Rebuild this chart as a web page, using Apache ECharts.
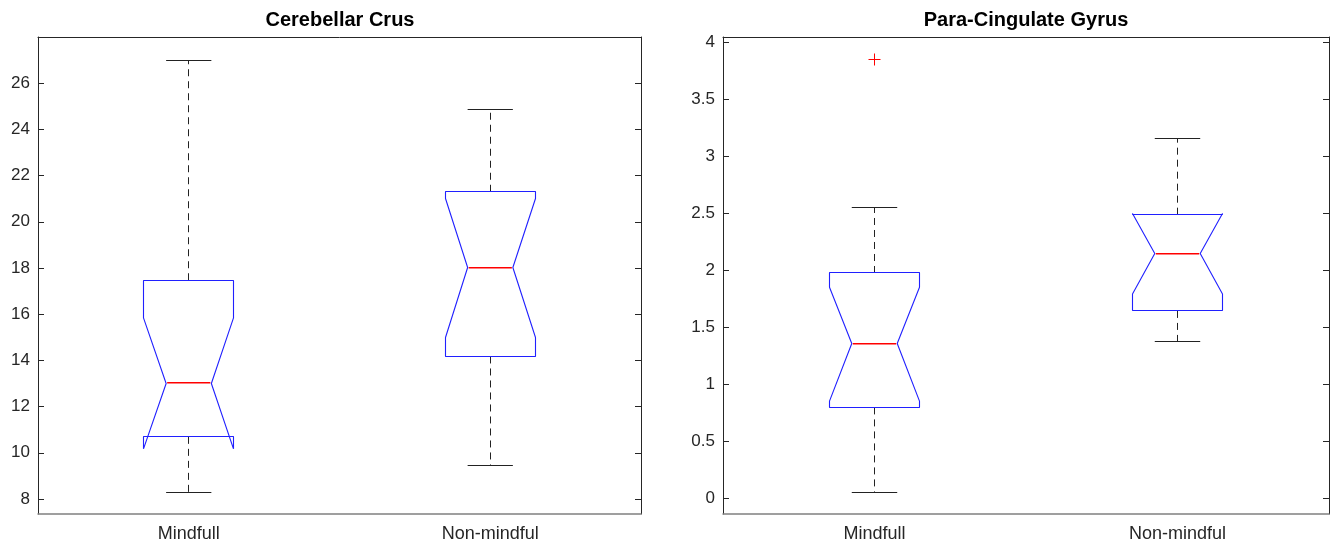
<!DOCTYPE html>
<html>
<head>
<meta charset="utf-8">
<script src="https://cdn.jsdelivr.net/npm/echarts@6/dist/echarts.min.js"></script>
<style>
html,body{margin:0;padding:0;background:#fff;}
#chart{width:1331px;height:543px;}
</style>
</head>
<body>
<div id="chart"></div>
<script>
// ---------- data ----------
const categories = ['Mindfull', 'Non-mindful'];

// Cerebellar Crus
const crusWhiskerLow  = [8.28, 9.45];
const crusQ1          = [10.69, 14.17];
const crusNotchLow    = [10.17, 14.99];
const crusMedian      = [13.0, 18.0];
const crusNotchHigh   = [15.84, 21.01];
const crusQ3          = [17.47, 21.30];
const crusWhiskerHigh = [27.0, 24.88];
const crusOutliers    = [];            // [categoryIndex, value]
const crusTicks       = [8, 10, 12, 14, 16, 18, 20, 22, 24, 26];

// Para-Cingulate Gyrus
const pcgWhiskerLow  = [0.05, 1.374];
const pcgQ1          = [0.798, 1.645];
const pcgNotchLow    = [0.853, 1.794];
const pcgMedian      = [1.357, 2.148];
const pcgNotchHigh   = [1.853, 2.50];
const pcgQ3          = [1.978, 2.49];
const pcgWhiskerHigh = [2.555, 3.158];
const pcgOutliers    = [[0, 3.85]];
const pcgTicks       = [0, 0.5, 1, 1.5, 2, 2.5, 3, 3.5, 4];

// ---------- styling ----------
const FONT = 'Liberation Sans, Arial, sans-serif';
const AX = '#262626';
const BOX_FRAC = 0.30;    // box width as fraction of category band
const NOTCH_FRAC = 0.15;  // notch (narrow) width
const CAP_FRAC = 0.15;    // whisker cap width

function crisp(v) { return Math.round(v - 0.5) + 0.5; }

function boxData(wl, q1, nl, md, nh, q3, wh) {
  return categories.map((c, i) => [i, wl[i], q1[i], nl[i], md[i], nh[i], q3[i], wh[i]]);
}
function medData(md) {
  return categories.map((c, i) => [i, md[i]]);
}

function renderBox(params, api) {
  const idx = api.value(0);
  const wl = api.value(1), q1 = api.value(2), nl = api.value(3), md = api.value(4),
        nh = api.value(5), q3 = api.value(6), wh = api.value(7);
  const band = api.size([1, 0])[0];
  const cx = api.coord([idx, md])[0];
  const y = v => api.coord([idx, v])[1];
  const L = cx - band * BOX_FRAC / 2, R = cx + band * BOX_FRAC / 2;
  const NL = cx - band * NOTCH_FRAC / 2, NR = cx + band * NOTCH_FRAC / 2;
  const CL = cx - band * CAP_FRAC / 2, CR = cx + band * CAP_FRAC / 2;
  const xc = crisp(cx);
  const pts = [
    [crisp(L), crisp(y(q3))], [crisp(L), y(nh)], [NL, crisp(y(md))], [crisp(L), y(nl)],
    [crisp(L), crisp(y(q1))], [crisp(R), crisp(y(q1))], [crisp(R), y(nl)], [NR, crisp(y(md))],
    [crisp(R), y(nh)], [crisp(R), crisp(y(q3))]
  ];
  return {
    type: 'group',
    children: [
      { type: 'line', shape: { x1: xc, y1: y(q3), x2: xc, y2: y(wh) },
        style: { stroke: '#222', lineWidth: 1, lineDash: [7, 5], fill: null } },
      { type: 'line', shape: { x1: xc, y1: y(q1), x2: xc, y2: y(wl) },
        style: { stroke: '#222', lineWidth: 1, lineDash: [7, 5], fill: null } },
      { type: 'line', shape: { x1: CL, y1: crisp(y(wh)), x2: CR, y2: crisp(y(wh)) },
        style: { stroke: '#222', lineWidth: 1, fill: null } },
      { type: 'line', shape: { x1: CL, y1: crisp(y(wl)), x2: CR, y2: crisp(y(wl)) },
        style: { stroke: '#222', lineWidth: 1, fill: null } },
      { type: 'polygon', shape: { points: pts },
        style: { stroke: '#2020ff', lineWidth: 1.1, fill: null, lineJoin: 'bevel' } }
    ]
  };
}

function renderMedian(params, api) {
  const idx = api.value(0);
  const md = api.value(1);
  const band = api.size([1, 0])[0];
  const p = api.coord([idx, md]);
  const NL = p[0] - band * NOTCH_FRAC / 2;
  const w = band * NOTCH_FRAC;
  return {
    type: 'rect',
    shape: { x: NL + 1, y: Math.round(p[1]) - 1, width: w - 2, height: 1.5 },
    style: { fill: '#ff0000', stroke: null }
  };
}

function renderPlus(params, api) {
  const p = api.coord([api.value(0), api.value(1)]);
  const s = 6, x = crisp(p[0]), yy = crisp(p[1]);
  return {
    type: 'group',
    children: [
      { type: 'line', shape: { x1: x - s, y1: yy, x2: x + s, y2: yy }, style: { stroke: '#ff0000', lineWidth: 1 } },
      { type: 'line', shape: { x1: x, y1: yy - s, x2: x, y2: yy + s }, style: { stroke: '#ff0000', lineWidth: 1 } }
    ]
  };
}

function xAxes(gi) {
  return [
    { gridIndex: gi, type: 'category', data: categories, position: 'bottom',
      axisLine: { onZero: false, lineStyle: { color: '#808080', width: 1.5 } },
      axisTick: { inside: true, alignWithLabel: true, length: 6, lineStyle: { color: AX } },
      axisLabel: { fontSize: 18, color: AX, margin: 11, fontFamily: FONT },
      splitLine: { show: false } },
    { gridIndex: gi, type: 'category', data: categories, position: 'top',
      axisLine: { onZero: false, lineStyle: { color: AX, width: 1 } },
      axisTick: { inside: true, alignWithLabel: true, length: 6, lineStyle: { color: AX } },
      axisLabel: { show: false }, splitLine: { show: false } }
  ];
}

function yAxes(gi, min, max, ticks) {
  return [
    { gridIndex: gi, type: 'value', min: min, max: max, position: 'left',
      axisLine: { show: true, onZero: false, lineStyle: { color: AX, width: 1 } },
      axisTick: { show: true, inside: true, length: 6, customValues: ticks, lineStyle: { color: AX } },
      axisLabel: { customValues: ticks, fontSize: 17, color: AX, margin: 8, fontFamily: FONT },
      splitLine: { show: false } },
    { gridIndex: gi, type: 'value', min: min, max: max, position: 'right',
      axisLine: { show: true, onZero: false, lineStyle: { color: AX, width: 1 } },
      axisTick: { show: true, inside: true, length: 6, customValues: ticks, lineStyle: { color: AX } },
      axisLabel: { show: false }, splitLine: { show: false } }
  ];
}

const chart = echarts.init(document.getElementById('chart'), null, { renderer: 'canvas' });
chart.setOption({
  backgroundColor: '#fff',
  animation: false,
  title: [
    { text: 'Cerebellar Crus', left: 340, top: 10, textAlign: 'center', padding: 0,
      textStyle: { fontSize: 20, fontWeight: 'bold', color: '#000', fontFamily: FONT } },
    { text: 'Para-Cingulate Gyrus', left: 1026, top: 10, textAlign: 'center', padding: 0,
      textStyle: { fontSize: 20, fontWeight: 'bold', color: '#000', fontFamily: FONT } }
  ],
  grid: [
    { left: 38, right: 690, top: 37, bottom: 29, containLabel: false },
    { left: 723, right: 2, top: 37, bottom: 29, containLabel: false }
  ],
  xAxis: xAxes(0).concat(xAxes(1)),
  yAxis: yAxes(0, 7.35, 28, crusTicks).concat(yAxes(1, -0.138, 4.05, pcgTicks)),
  series: [
    { type: 'custom', xAxisIndex: 0, yAxisIndex: 0, renderItem: renderBox, z: 2,
      encode: { x: 0, y: [1, 2, 3, 4, 5, 6, 7] },
      data: boxData(crusWhiskerLow, crusQ1, crusNotchLow, crusMedian, crusNotchHigh, crusQ3, crusWhiskerHigh) },
    { type: 'custom', xAxisIndex: 0, yAxisIndex: 0, renderItem: renderMedian, z: 5,
      encode: { x: 0, y: 1 }, data: medData(crusMedian) },
    { type: 'custom', xAxisIndex: 0, yAxisIndex: 0, renderItem: renderPlus, z: 5,
      encode: { x: 0, y: 1 }, data: crusOutliers },
    { type: 'custom', xAxisIndex: 2, yAxisIndex: 2, renderItem: renderBox, z: 2,
      encode: { x: 0, y: [1, 2, 3, 4, 5, 6, 7] },
      data: boxData(pcgWhiskerLow, pcgQ1, pcgNotchLow, pcgMedian, pcgNotchHigh, pcgQ3, pcgWhiskerHigh) },
    { type: 'custom', xAxisIndex: 2, yAxisIndex: 2, renderItem: renderMedian, z: 5,
      encode: { x: 0, y: 1 }, data: medData(pcgMedian) },
    { type: 'custom', xAxisIndex: 2, yAxisIndex: 2, renderItem: renderPlus, z: 5,
      encode: { x: 0, y: 1 }, data: pcgOutliers }
  ]
});
</script>
</body>
</html>
